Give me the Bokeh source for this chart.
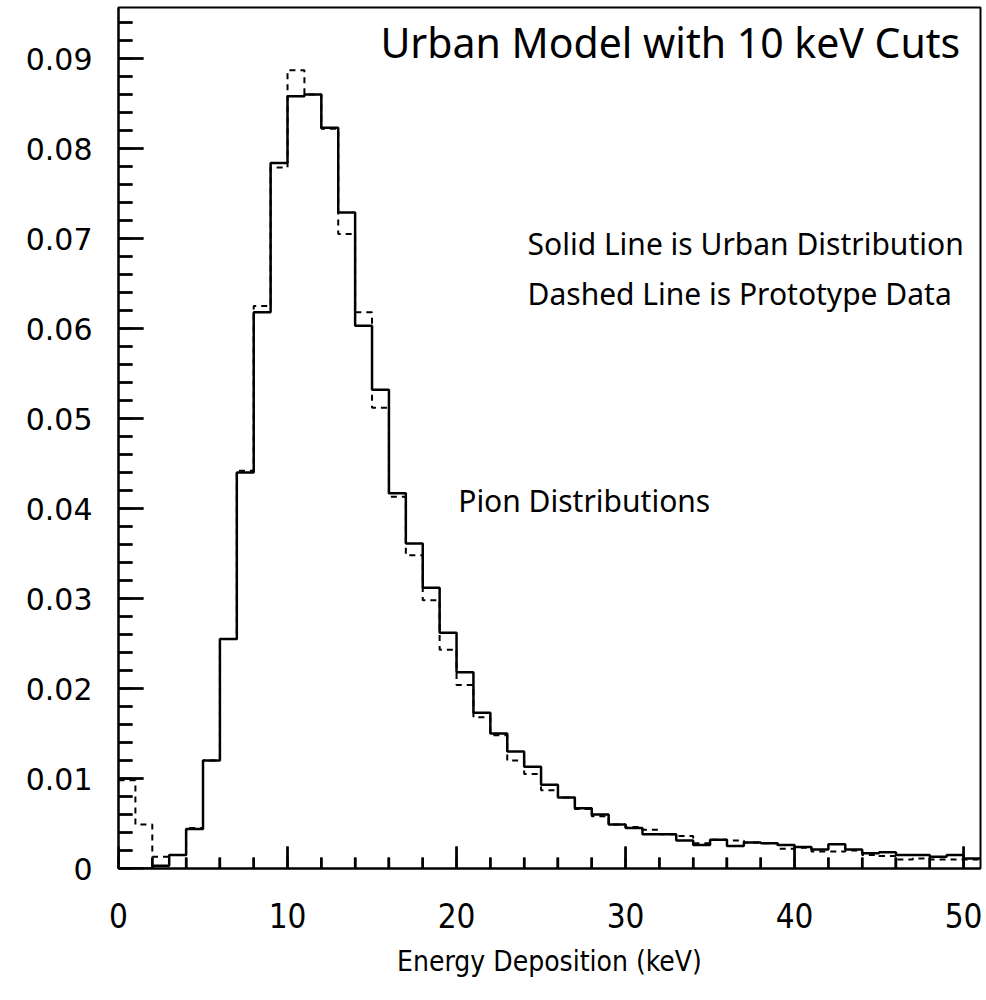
from bokeh.plotting import figure
from bokeh.models import FixedTicker, CustomJSTickFormatter, Range1d, Label
from bokeh.embed import file_html
from bokeh.resources import INLINE

# ---- data (bin width 1 keV, edges 0..51) ----
bin_edges = list(range(0, 52))
urban = [0.0000, 0.0000, 0.0003, 0.0015, 0.0044, 0.0120, 0.0255, 0.0440, 0.0618, 0.0784,
         0.0858, 0.0860, 0.0823, 0.0729, 0.0603, 0.0532, 0.0417, 0.0361, 0.0312, 0.0262,
         0.0218, 0.0173, 0.0150, 0.0130, 0.0113, 0.0093, 0.0079, 0.0067, 0.0060, 0.0049,
         0.0045, 0.0038, 0.0038, 0.0031, 0.0026, 0.0032, 0.0025, 0.0029, 0.0028, 0.0026,
         0.0024, 0.0021, 0.0027, 0.0021, 0.0017, 0.0018, 0.0015, 0.0015, 0.0013, 0.0015,
         0.0011]
prototype = [0.0098, 0.0049, 0.0013, 0.0015, 0.0045, 0.0120, 0.0255, 0.0442, 0.0625, 0.0779,
             0.0887, 0.0860, 0.0822, 0.0705, 0.0618, 0.0512, 0.0413, 0.0348, 0.0298, 0.0243,
             0.0204, 0.0168, 0.0148, 0.0120, 0.0105, 0.0087, 0.0079, 0.0066, 0.0058, 0.0049,
             0.0046, 0.0043, 0.0038, 0.0036, 0.0028, 0.0032, 0.0031, 0.0029, 0.0028, 0.0022,
             0.0023, 0.0019, 0.0019, 0.0020, 0.0015, 0.0014, 0.0010, 0.0011, 0.0010, 0.0010,
             0.0010]
x_ticks = [0, 10, 20, 30, 40, 50]
x_minor_ticks = list(range(0, 52, 2))
y_ticks = [0, 0.01, 0.02, 0.03, 0.04, 0.05, 0.06, 0.07, 0.08, 0.09]
y_minor_ticks = [round(i * 0.002, 3) for i in range(0, 48)]

X_MAX, Y_MAX = 51, 0.09567
FRAME_W, FRAME_H = 862, 861          # plot frame size in pixels
px_x = X_MAX / FRAME_W               # data units per pixel
px_y = Y_MAX / FRAME_H

narrow_font = "'DejaVu Sans Condensed', 'Liberation Sans Narrow', Roboto"

p = figure(width=986, height=1000, output_backend="svg", toolbar_location=None,
           x_range=Range1d(0, X_MAX), y_range=Range1d(0, Y_MAX),
           min_border_left=118, min_border_right=6, min_border_top=7, min_border_bottom=132)
p.background_fill_color = "white"
p.border_fill_color = "white"
p.outline_line_color = "black"
p.outline_line_width = 2
p.grid.visible = False

# histograms as steps
p.step(x=bin_edges, y=prototype + [prototype[-1]], mode="after",
       line_color="black", line_width=2, line_dash="6 5")
p.step(x=bin_edges, y=urban + [urban[-1]], mode="after",
       line_color="black", line_width=2.5)

# inward tick marks: one short line per tick
for t in x_minor_ticks:
    h = (22 if t in x_ticks else 11) * px_y
    p.line(x=[t, t], y=[0, h], line_color="black", line_width=2.5)
for t in y_minor_ticks:
    w = (25 if t in y_ticks else 14) * px_x
    p.line(x=[0, w], y=[t, t], line_color="black", line_width=2.5)

# x axis
xa = p.xaxis[0]
xa.ticker = FixedTicker(ticks=x_ticks, minor_ticks=x_minor_ticks)
xa.major_tick_in = 22
xa.major_tick_out = 0
xa.minor_tick_in = 11
xa.minor_tick_out = 0
xa.major_tick_line_width = 2
xa.minor_tick_line_width = 2
xa.axis_line_width = 2
xa.major_label_standoff = 34
xa.major_label_text_font = narrow_font
xa.major_label_text_font_size = "33px"
xa.major_label_text_color = "black"
xa.axis_label = "Energy Deposition (keV)"
xa.axis_label_text_font = narrow_font
xa.axis_label_text_font_style = "normal"
xa.axis_label_text_font_size = "28px"
xa.axis_label_standoff = 14
xa.axis_label_text_color = "black"

# y axis
ya = p.yaxis[0]
ya.ticker = FixedTicker(ticks=y_ticks, minor_ticks=y_minor_ticks)
ya.formatter = CustomJSTickFormatter(code="return tick === 0 ? '0' : tick.toFixed(2);")
ya.major_tick_in = 25
ya.major_tick_out = 0
ya.minor_tick_in = 14
ya.minor_tick_out = 0
ya.major_tick_line_width = 2
ya.minor_tick_line_width = 2
ya.axis_line_width = 2
ya.major_label_standoff = 26
ya.major_label_text_font = "DejaVu Sans"
ya.major_label_text_font_size = "30px"
ya.major_label_text_color = "black"

# annotations
ann_font = "Noto Sans"
p.add_layout(Label(x=49.8, y=0.0918, text="Urban Model with 10 keV Cuts",
                   text_align="right", text_baseline="middle",
                   text_font=ann_font, text_font_size="41px", text_color="black"))
p.add_layout(Label(x=24.2, y=0.0694, text="Solid Line is Urban Distribution",
                   text_align="left", text_baseline="middle",
                   text_font=ann_font, text_font_size="30px", text_color="black"))
p.add_layout(Label(x=24.2, y=0.0639, text="Dashed Line is Prototype Data",
                   text_align="left", text_baseline="middle",
                   text_font=ann_font, text_font_size="30px", text_color="black"))
p.add_layout(Label(x=20.1, y=0.0409, text="Pion Distributions",
                   text_align="left", text_baseline="middle",
                   text_font=ann_font, text_font_size="30px", text_color="black"))

open("out.html", "w").write(file_html(p, INLINE))
